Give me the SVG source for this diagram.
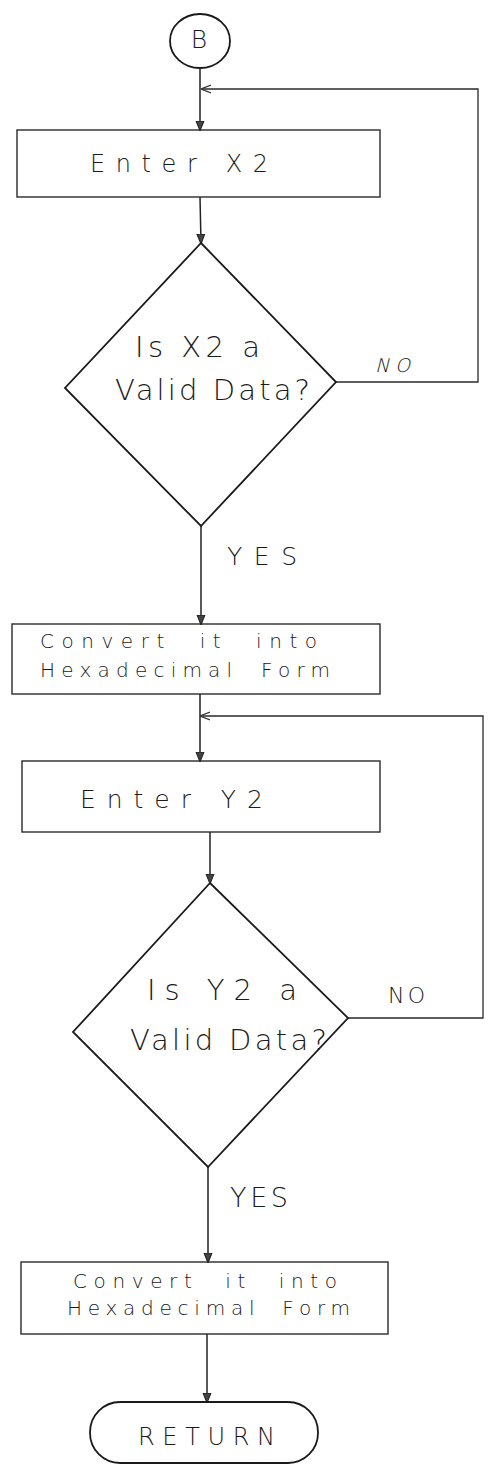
<svg xmlns="http://www.w3.org/2000/svg" width="490" height="1466" viewBox="0 0 490 1466">
  <defs>
    <style>
      .bg { fill: #ffffff; }
      .box { fill: none; stroke: #2a2a2a; stroke-width: 1.4; }
      .dia { fill: none; stroke: #1a1a1a; stroke-width: 1.8; stroke-linejoin: miter; }
      .term { fill: none; stroke: #1a1a1a; stroke-width: 1.8; }
      .flow { fill: none; stroke: #222222; stroke-width: 1.5; }
      .back { fill: none; stroke: #2a2a2a; stroke-width: 1.3; }
      .t { font-family: "DejaVu Sans", "Liberation Sans", sans-serif; font-weight: 200; fill: #1a1a1a; }
    </style>
    <marker id="arrow" markerWidth="10" markerHeight="12" refX="9" refY="5" orient="auto" markerUnits="userSpaceOnUse" viewBox="0 0 10 10">
      <path d="M0,1 L10,5 L0,9 z" fill="#444444" stroke="#1a1a1a" stroke-width="1"/>
    </marker>
    <marker id="barb" markerWidth="10" markerHeight="10" refX="9" refY="5" orient="auto" markerUnits="userSpaceOnUse" viewBox="0 0 10 10">
      <path d="M0,1 L10,5 L0,9" fill="none" stroke="#333333" stroke-width="1.2"/>
    </marker>
  </defs>

  <rect class="bg" x="0" y="0" width="490" height="1466"/>

  <!-- flow lines -->
  <g id="connectors">
    <path class="flow" d="M200,68 L200,130" marker-end="url(#arrow)"/>
    <path class="flow" d="M200,197 L201,243" marker-end="url(#arrow)"/>
    <path class="back" d="M336,382 L478,382 L478,89 L202,89" marker-end="url(#barb)"/>
    <path class="flow" d="M201,526 L201,624" marker-end="url(#arrow)"/>
    <path class="flow" d="M200,694 L200,761" marker-end="url(#arrow)"/>
    <path class="back" d="M348,1018 L483,1018 L483,716 L201,716" marker-end="url(#barb)"/>
    <path class="flow" d="M210,832 L210,883" marker-end="url(#arrow)"/>
    <path class="flow" d="M208,1167 L208,1262" marker-end="url(#arrow)"/>
    <path class="flow" d="M207,1334 L207,1402" marker-end="url(#arrow)"/>
  </g>

  <!-- connector B -->
  <g id="start-b">
    <ellipse class="term" cx="200" cy="41" rx="30" ry="27"/>
    <text class="t" x="199" y="48" font-size="25" text-anchor="middle">B</text>
  </g>

  <g id="enter-x2">
    <rect class="box" x="17" y="130" width="363" height="67"/>
    <text class="t" x="90" y="172" font-size="24" textLength="178" lengthAdjust="spacing">Enter X2</text>
  </g>

  <g id="check-x2">
    <polygon class="dia" points="201,243 336,382 201,526 65,388"/>
    <text class="t" x="135" y="357" font-size="29" textLength="125" lengthAdjust="spacing">Is X2 a</text>
    <text class="t" x="115" y="400" font-size="29" textLength="195" lengthAdjust="spacing">Valid Data?</text>
    <text class="t" x="0" y="0" font-size="19" textLength="35" lengthAdjust="spacing" transform="translate(375,372) skewX(-14)">NO</text>
    <text class="t" x="227" y="565" font-size="25" textLength="70" lengthAdjust="spacing">YES</text>
  </g>

  <g id="convert-x2">
    <rect class="box" x="12" y="624" width="368" height="70"/>
    <text class="t" x="40" y="648" font-size="20" textLength="277" lengthAdjust="spacing" word-spacing="14">Convert it into</text>
    <text class="t" x="40" y="677" font-size="20" textLength="290" lengthAdjust="spacing" word-spacing="10">Hexadecimal Form</text>
  </g>

  <g id="enter-y2">
    <rect class="box" x="22" y="761" width="358" height="71"/>
    <text class="t" x="80" y="808" font-size="25" textLength="183" lengthAdjust="spacing">Enter Y2</text>
  </g>

  <g id="check-y2">
    <polygon class="dia" points="210,883 348,1018 208,1167 73,1032"/>
    <text class="t" x="147" y="1000" font-size="29" textLength="150" lengthAdjust="spacing">Is Y2 a</text>
    <text class="t" x="130" y="1050" font-size="29" textLength="197" lengthAdjust="spacing">Valid Data?</text>
    <text class="t" x="388" y="1003" font-size="22" textLength="37" lengthAdjust="spacing">NO</text>
    <text class="t" x="230" y="1207" font-size="27" textLength="58" lengthAdjust="spacing">YES</text>
  </g>

  <g id="convert-y2">
    <rect class="box" x="21" y="1262" width="367" height="72"/>
    <text class="t" x="73" y="1288" font-size="20" textLength="264" lengthAdjust="spacing" word-spacing="14">Convert it into</text>
    <text class="t" x="67" y="1315" font-size="20" textLength="283" lengthAdjust="spacing" word-spacing="10">Hexadecimal Form</text>
  </g>

  <g id="return">
    <rect class="term" x="90" y="1402" width="228" height="61" rx="30" ry="30"/>
    <text class="t" x="138" y="1445" font-size="24" textLength="137" lengthAdjust="spacing">RETURN</text>
  </g>
</svg>
